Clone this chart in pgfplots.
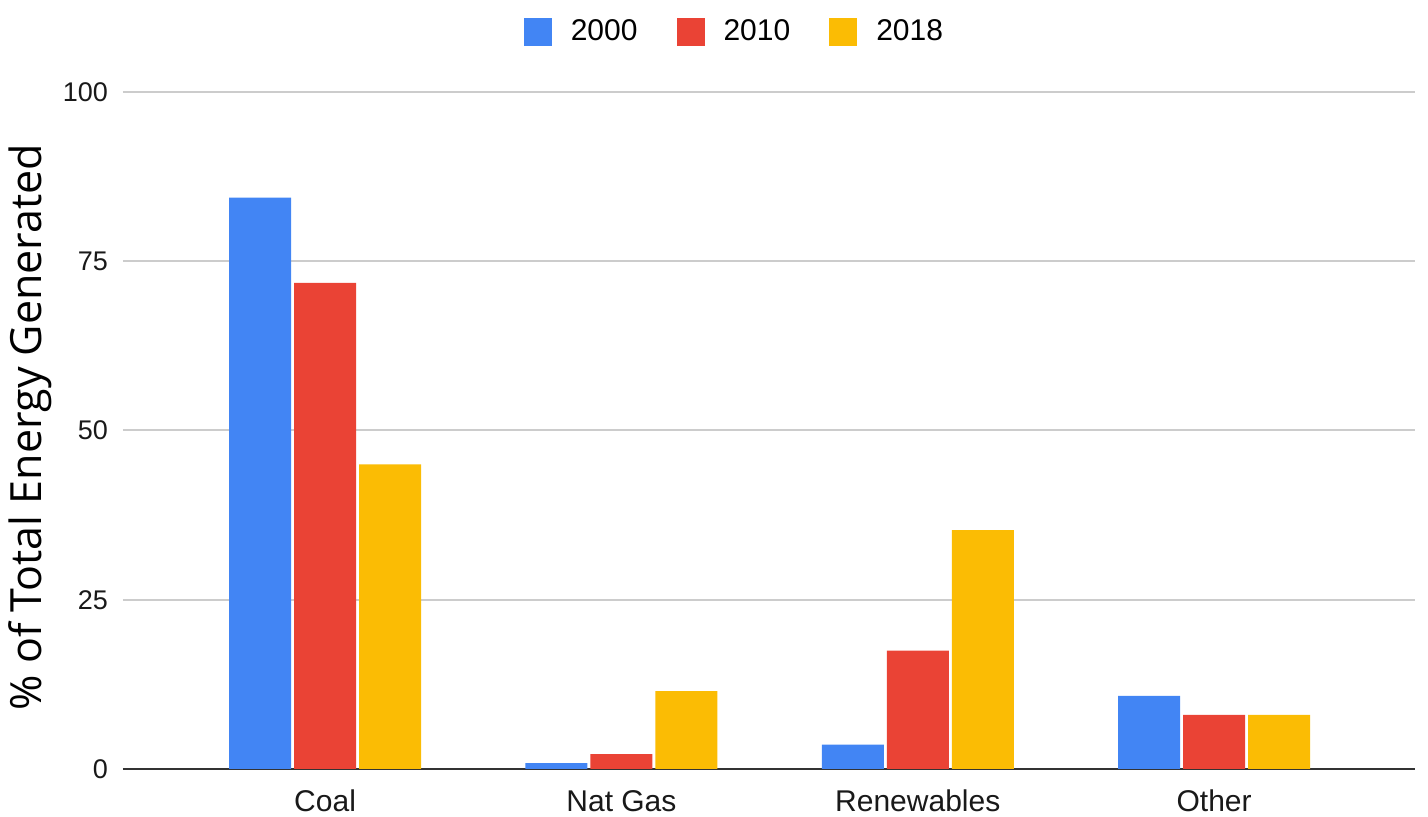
\documentclass[border=0pt]{standalone}
\usepackage{pgfplots}
\pgfplotsset{compat=1.18}
\usepackage{fontspec}
\setmainfont{Liberation Sans}
\newfontfamily\labelfont{Open Sans}
\definecolor{gblue}{HTML}{4285F4}
\definecolor{gred}{HTML}{EA4335}
\definecolor{gyellow}{HTML}{FBBC04}
\definecolor{gridgrey}{HTML}{CCCCCC}
\definecolor{axisgrey}{HTML}{333333}
\begin{document}
\begin{tikzpicture}
\path[use as bounding box] (-61.5pt,-24pt) rectangle (652.5pt,384.5pt);
\begin{axis}[
  scale only axis,
  width=646pt, height=338.5pt,
  ybar=1.5pt, bar width=31pt,
  xmin=-0.682, xmax=3.678,
  ymin=0, ymax=100,
  xtick={0,1,2,3},
  xticklabels={Coal,Nat Gas,Renewables,Other},
  ytick={0,25,50,75,100},
  /pgf/number format/assume math mode=true,
  major tick length=0pt,
  axis x line*=bottom,
  axis y line*=left,
  y axis line style={draw=none},
  x axis line style={draw=axisgrey, line width=1pt, -},
  ymajorgrids, grid style={gridgrey, line width=1pt},
  yticklabel style={font=\fontsize{13.5}{16}\selectfont, text=black!90, anchor=east, xshift=-4pt},
  ytick style={draw=none},
  xtick style={draw=none},
  xticklabel style={font=\fontsize{15}{18}\selectfont, text=black!90, yshift=-7pt},
  ylabel={\labelfont \% of Total Energy Generated},
  ylabel style={font=\fontsize{21.5}{26}\selectfont, at={(axis description cs:-0.072,0.505)}, anchor=center},
  legend style={at={(axis description cs:0.474,1.0)}, yshift=30pt, anchor=center, draw=none, fill=none,
    legend columns=3, font=\fontsize{15}{18}\selectfont,
    /tikz/every even column/.append style={column sep=17.5pt},
    /tikz/every odd column/.append style={column sep=7.5pt}},
  legend image code/.code={\fill[#1] (0pt,-7pt) rectangle (14pt,7pt);},
  every axis plot/.append style={draw=none},
]
\addplot[fill=gblue] coordinates {(0,84.4) (1,0.85) (2,3.6) (3,10.8)};
\addplot[fill=gred] coordinates {(0,71.8) (1,2.2) (2,17.5) (3,8.0)};
\addplot[fill=gyellow] coordinates {(0,45.0) (1,11.5) (2,35.3) (3,8.0)};
\legend{2000,2010,2018}
\end{axis}
\end{tikzpicture}
\end{document}
